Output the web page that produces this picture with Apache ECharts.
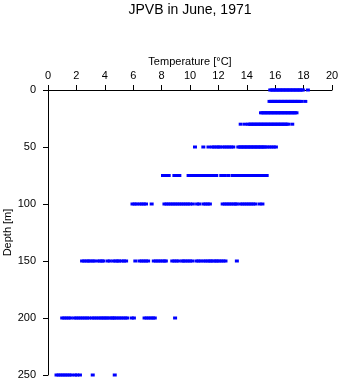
<!DOCTYPE html>
<html>
<head>
<meta charset="utf-8">
<script src="https://cdn.jsdelivr.net/npm/echarts@6/dist/echarts.min.js"></script>
<style>html,body{margin:0;padding:0;background:#fff}#c{width:341px;height:384px}</style>
</head>
<body>
<div id="c"></div>
<script>
var titleText = "JPVB in June, 1971";
var xName = "Temperature [°C]";
var yName = "Depth [m]";
var depths = [0, 10, 20, 30, 50, 75, 100, 150, 200, 250];
var t0 = [15.65,15.75,15.85,15.95,16.05,16.15,16.25,16.35,16.45,16.55,16.65,16.75,16.85,16.95,17.05,17.15,17.25,17.35,17.45,17.55,17.65,17.75,17.85,17.95,18.3];
var t10 = [15.6,15.7,15.8,15.9,16.0,16.1,16.2,16.3,16.4,16.5,16.6,16.7,16.8,16.9,17.0,17.1,17.2,17.3,17.4,17.5,17.6,17.7,17.85,18.12];
var t20 = [15.0,15.1,15.2,15.3,15.4,15.5,15.6,15.7,15.8,15.9,16.0,16.1,16.2,16.3,16.4,16.5,16.6,16.7,16.8,16.9,17.0,17.1,17.2,17.3,17.4,17.5];
var t30 = [13.57,13.87,14.1,14.2,14.3,14.4,14.5,14.6,14.7,14.8,14.9,15.0,15.1,15.2,15.3,15.4,15.5,15.6,15.7,15.8,15.9,16.0,16.1,16.2,16.3,16.4,16.5,16.6,16.7,16.8,16.9,17.2];
var t50 = [10.35,10.94,11.3,11.55,11.7,11.85,12.0,12.1,12.3,12.45,12.6,12.75,12.9,13.05,13.4,13.5,13.6,13.7,13.8,13.9,14.0,14.1,14.2,14.3,14.4,14.5,14.6,14.7,14.8,14.9,15.0,15.1,15.2,15.3,15.45,15.6,15.75,15.9,16.05];
var t75 = [8.1,8.3,8.5,8.9,9.05,9.25,9.9,10.05,10.2,10.35,10.5,10.65,10.8,10.95,11.1,11.25,11.4,11.55,11.7,11.85,12.2,12.45,12.7,13.0,13.15,13.3,13.45,13.6,13.75,13.9,14.05,14.2,14.35,14.5,14.65,14.8,14.95,15.1,15.25,15.4];
var t100 = [5.95,6.1,6.25,6.45,6.6,6.75,6.9,7.3,8.2,8.35,8.5,8.65,8.8,8.95,9.1,9.25,9.4,9.55,9.7,9.85,10.0,10.2,10.5,10.65,10.95,11.1,11.25,11.4,12.3,12.45,12.6,12.75,12.9,13.05,13.2,13.3,13.55,13.7,13.85,14.0,14.15,14.3,14.45,14.6,14.9,15.1];
var t150 = [2.4,2.55,2.7,2.85,2.95,3.15,3.25,3.5,3.65,3.8,3.9,4.2,4.35,4.6,4.75,4.9,5.0,5.2,5.35,5.5,6.15,6.45,6.6,6.75,6.9,7.05,7.45,7.6,7.75,7.9,8.05,8.2,8.3,8.75,8.9,9.05,9.2,9.45,9.55,9.7,9.85,10.0,10.15,10.45,10.6,10.75,10.95,11.1,11.25,11.4,11.5,11.65,11.8,11.9,12.05,12.2,12.35,12.5,13.3];
var t200 = [1.0,1.15,1.3,1.45,1.6,1.85,2.0,2.15,2.3,2.45,2.6,2.75,2.9,3.1,3.25,3.4,3.55,3.7,3.82,3.95,4.08,4.2,4.35,4.5,4.6,4.7,4.85,5.0,5.15,5.3,5.45,5.58,5.9,6.05,6.8,6.95,7.1,7.25,7.4,7.52,8.95];
var t250 = [0.6,0.75,0.9,1.05,1.2,1.35,1.5,1.65,1.9,2.05,2.25,3.15,4.7];
var temps = [t0, t10, t20, t30, t50, t75, t100, t150, t200, t250];

var data = [];
depths.forEach(function (d, i) {
  temps[i].forEach(function (t) { data.push([t, d]); });
});

var chart = echarts.init(document.getElementById('c'), null, {renderer: 'canvas'});
var font = 'Liberation Sans, Arial, Helvetica, sans-serif';
chart.setOption({
  animation: false,
  backgroundColor: '#ffffff',
  title: {
    text: titleText, left: 190, top: 3, padding: 0, textAlign: 'center',
    textStyle: {fontFamily: font, fontSize: 14, fontWeight: 'normal', color: '#000'}
  },
  grid: {left: 48, right: 9, top: 90, bottom: 9, containLabel: false, outerBoundsMode: 'none'},
  xAxis: {
    type: 'value', position: 'top', min: 0, max: 20, interval: 2,
    name: xName, nameLocation: 'middle', nameGap: 23, nameMoveOverlap: false,
    nameTextStyle: {fontFamily: font, fontSize: 11, color: '#000'},
    axisLine: {show: true, onZero: false, lineStyle: {color: '#000', width: 1}},
    axisTick: {show: true, length: 5, lineStyle: {color: '#000'}},
    axisLabel: {fontFamily: font, fontSize: 11, color: '#000', margin: 9},
    splitLine: {show: false}
  },
  yAxis: {
    type: 'value', inverse: true, min: 0, max: 250, interval: 50,
    name: yName, nameLocation: 'middle', nameGap: 35, nameRotate: 90, nameMoveOverlap: false,
    nameTextStyle: {fontFamily: font, fontSize: 11, color: '#000'},
    axisLine: {show: true, onZero: false, lineStyle: {color: '#000', width: 1}},
    axisTick: {show: true, length: 5, lineStyle: {color: '#000'}},
    axisLabel: {fontFamily: font, fontSize: 11, color: '#000', margin: 12},
    splitLine: {show: false}
  },
  series: [{
    type: 'scatter',
    data: data,
    symbol: 'rect',
    symbolSize: [4, 3],
    itemStyle: {color: '#0000ff', opacity: 1},
    silent: true
  }]
});
</script>
</body>
</html>
